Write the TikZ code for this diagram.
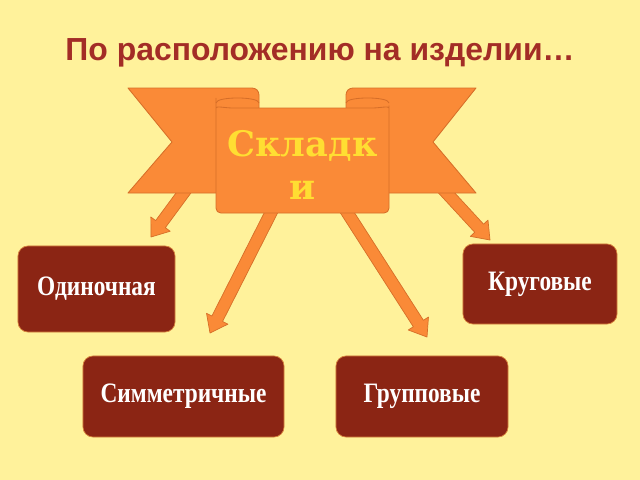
\documentclass[tikz,border=0pt]{standalone}
\usepackage{fontspec}
\setmainfont{Liberation Serif}
\newfontfamily\titlefont{Liberation Sans}
\newfontfamily\scrollfont{DejaVu Serif}
\newfontfamily\boxfont[FakeStretch=0.83]{Liberation Serif}
\usetikzlibrary{calc}

\definecolor{bgyellow}{RGB}{255,242,155}
\definecolor{ribbonfill}{RGB}{250,138,55}
\definecolor{ribbonline}{RGB}{214,110,40}
\definecolor{boxfill}{RGB}{139,37,20}
\definecolor{boxline}{RGB}{215,130,60}
\definecolor{titlered}{RGB}{163,45,38}
\definecolor{scrolltext}{RGB}{255,222,50}

\tikzset{
  ribbon/.style={fill=ribbonfill, draw=ribbonline, line width=0.6pt, line join=round},
  curl/.style={draw=ribbonline, line width=0.6pt},
  blockarr/.style={fill=ribbonfill, draw=ribbonline, line width=0.5pt, line join=round},
  kind/.style={fill=boxfill, draw=boxline, line width=0.5pt, rounded corners=0.25cm,
    text=white, font=\boxfont\bfseries\fontsize{20}{22}\selectfont},
  titletext/.style={text=titlered, font=\titlefont\bfseries\fontsize{22.7}{26}\selectfont},
  scrolltitle/.style={text=scrolltext, align=center, font=\scrollfont\bfseries\fontsize{25}{30}\selectfont}
}

\newcommand\blockarrow[2]{%
  \coordinate (hb) at ($(#2)!0.4cm!(#1)$);
  \draw[blockarr] ($(#1)!0.15cm!90:(#2)$) -- ($(hb)!0.15cm!90:(#2)$) -- ($(hb)!0.3cm!90:(#2)$)
    -- (#2) -- ($(hb)!0.3cm!-90:(#2)$) -- ($(hb)!0.15cm!-90:(#2)$) -- ($(#1)!0.15cm!-90:(#2)$) -- cycle;}

\begin{document}
\begin{tikzpicture}[x=0.025cm, y=-0.025cm]
  \fill[bgyellow] (0,0) rectangle (640,480);
  \node[titletext] (title) at (320,53) {По расположению на изделии…};

  \coordinate (s1) at (196,176); \coordinate (t1) at (151,237);
  \coordinate (s2) at (280,195); \coordinate (t2) at (210,333);
  \coordinate (s3) at (336,195); \coordinate (t3) at (427,337);
  \coordinate (s4) at (431,176); \coordinate (t4) at (490,240);
  \foreach \i in {1,...,4} {\blockarrow{s\i}{t\i}}

  \draw[ribbon] (128,88) -- (252,88) .. controls (256,88) and (259,91) .. (259,95) -- (259,193) -- (128,193) -- (172,142) -- cycle;
  \draw[ribbon] (476,88) -- (353,88) .. controls (349,88) and (346,91) .. (346,95) -- (346,193) -- (476,193) -- (433,142) -- cycle;
  \draw[ribbon, rounded corners=0.12cm] (216,103) -- (216,213) -- (389,213) -- (389,103)
    .. controls (389,105.8) and (379.4,108) .. (367.5,108) -- (237.5,108)
    .. controls (225.6,108) and (216,105.8) .. (216,103) -- cycle;
  \draw[curl] (216,103) .. controls (216,96.3) and (259,96.3) .. (259,103);
  \draw[curl] (346,103) .. controls (346,96.3) and (389,96.3) .. (389,103);
  \node[scrolltitle] (skl) at (302.5,165) {Складк\\и};

  \node[kind, minimum width=3.925cm, minimum height=2.15cm] (odin) at (96.5,289) {Одиночная};
  \node[kind, minimum width=3.85cm, minimum height=2cm] (krug) at (540,284) {Круговые};
  \node[kind, minimum width=5.025cm, minimum height=2.025cm] (simm) at (183.5,396.5) {Симметричные};
  \node[kind, minimum width=4.3cm, minimum height=2.025cm] (grupp) at (422,396.5) {Групповые};
\end{tikzpicture}
\end{document}
